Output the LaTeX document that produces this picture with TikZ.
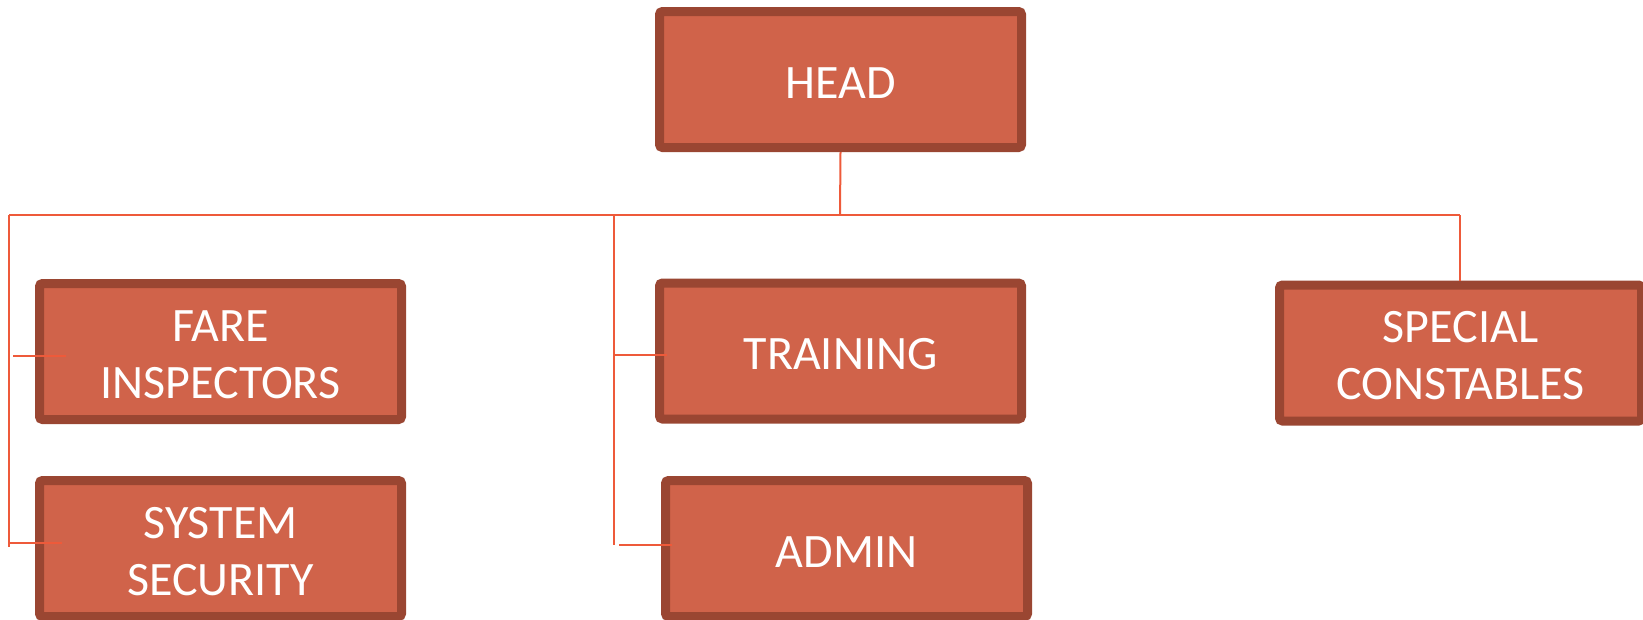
\documentclass[tikz,border=0pt]{standalone}
\usepackage{fontspec}
\setmainfont{Carlito}
\definecolor{boxfill}{HTML}{D0634A}
\definecolor{boxedge}{HTML}{9A4632}
\definecolor{linkcol}{HTML}{EE5A3A}
\tikzset{
  orgbox/.style={draw=boxedge, fill=boxfill, line width=9pt, rounded corners=3pt,
    minimum width=362pt, minimum height=136pt, inner sep=0pt, text=white,
    align=center, font=\fontsize{48}{56.7}\selectfont, text height=37pt},
  twoline/.style={text height=93.7pt},
  link/.style={draw=linkcol, line width=2pt}
}
\begin{document}
\begin{tikzpicture}[x=1pt,y=-1pt]
\useasboundingbox (0,0) rectangle (1643,619);
\node[orgbox] (head) at (840.5,79.5) {HEAD};
\node[orgbox, twoline] (fare) at (220.5,351.5) {FARE\\INSPECTORS};
\node[orgbox, twoline] (sys) at (220.5,548.5) {SYSTEM\\SECURITY};
\node[orgbox] (train) at (840.5,351) {TRAINING};
\node[orgbox] (admin) at (846.5,548.5) {ADMIN};
\node[orgbox, twoline] (spec) at (1460.5,353) {SPECIAL\\CONSTABLES};
\coordinate (bus) at (840,215);
\coordinate (busL) at (9,215);
\coordinate (busM) at (614,215);
\coordinate (busR) at (1460,215);
\coordinate (leftEnd) at (9,547);
\coordinate (midEnd) at (614,545);
\coordinate (fareS) at (13,355.5);
\coordinate (sysS) at (9,543);
\coordinate (trainS) at (614,355);
\coordinate (adminS) at (619,545);
\draw[link] (head.south) -- (bus);
\draw[link] (busL) -- (busR);
\draw[link] (busR) -- (spec.north -| busR);
\draw[link] (busL) -- (leftEnd);
\draw[link] (busM) -- (midEnd);
\draw[link] (fareS) -- ++(53,0);
\draw[link] (sysS) -- ++(53,0);
\draw[link] (trainS) -- ++(53,0);
\draw[link] (adminS) -- ++(53,0);
\end{tikzpicture}
\end{document}
